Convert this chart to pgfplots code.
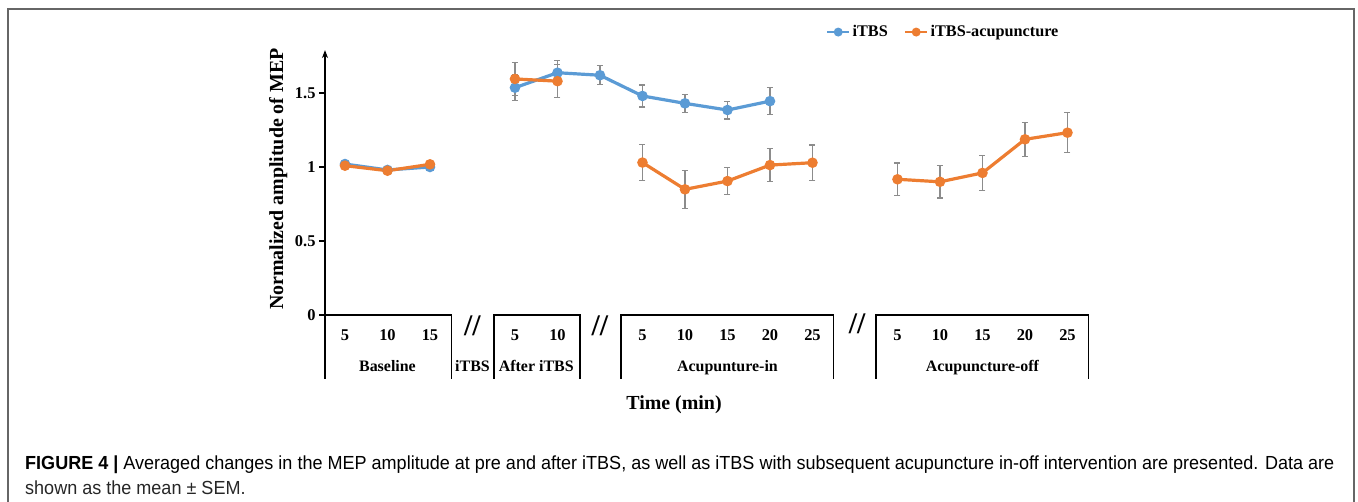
\documentclass[border=0pt]{standalone}
\usepackage{pgfplots}
\pgfplotsset{compat=1.18}
\usepackage{pgfplotstable}
\usepackage{fontspec}
\usepackage{graphicx}
\usetikzlibrary{arrows.meta}
\setmainfont{Liberation Serif}
\newfontfamily\capfont{Liberation Sans}
\definecolor{cblue}{HTML}{5B9BD5}
\definecolor{corange}{HTML}{ED7D31}
\definecolor{errgray}{HTML}{8C8C8C}
\definecolor{framegray}{HTML}{666666}
\newsavebox\capbox
\AtBeginDocument{%
\sbox\capbox{\capfont\fontsize{19}{22}\selectfont\textbf{FIGURE 4 |} Averaged changes in the MEP amplitude at pre and after iTBS, as well as iTBS with subsequent acupuncture in-off intervention are presented. Data are}%
\pgfmathsetmacro\capscale{1314.1/\the\wd\capbox}}

\pgfplotstableread{
x y e
0 1.02 0.01
1 0.98 0.01
2 1.00 0.01
3 nan 0
4 1.536 0.085
5 1.637 0.08
6 1.62 0.065
7 1.48 0.074
8 1.43 0.06
9 1.385 0.06
10 1.445 0.09
}\blueT

\pgfplotstableread{
x y e
0 1.009 0.01
1 0.975 0.01
2 1.018 0.01
3 nan 0
4 1.595 0.11
5 1.58 0.11
6 nan 0
7 1.03 0.12
8 0.849 0.13
9 0.905 0.09
10 1.013 0.11
11 1.029 0.12
12 nan 0
13 0.917 0.11
14 0.90 0.11
15 0.96 0.12
16 1.187 0.115
17 1.232 0.135
}\orangeT

\begin{document}
\begin{tikzpicture}
\useasboundingbox (0,0) rectangle (1358bp,-502bp);
\draw[framegray, line width=1.8bp] (8.2bp,-530bp) -- (8.2bp,-9bp) -- (1354bp,-9bp) -- (1354bp,-530bp);
\begin{axis}[
 at={(325bp,-315bp)}, anchor=south west,
 x=42.5bp, y=148bp,
 xmin=-0.47, xmax=17.5, ymin=0, ymax=1.79,
 axis y line=left, axis x line=bottom,
 x axis line style={draw=none},
 y axis line style={line width=1.6bp, -{Stealth[length=8bp,width=6bp]}},
 ytick={0,0.5,1,1.5},
 ytick style={line width=1.4bp, black},
 ytick align=outside,
 xtick align=inside,
 major tick length=6bp,
 xtick={0,1,2,4,5,7,8,9,10,11,13,14,15,16,17},
 xticklabels={5,10,15,5,10,5,10,15,20,25,5,10,15,20,25},
 xtick style={draw=none},
 xticklabel style={anchor=base, yshift=-25.7bp},
 tick label style={font=\bfseries\fontsize{16.5}{16.5}\selectfont},
 /pgf/number format/assume math mode=true,
 clip=false,
 unbounded coords=jump,
 ylabel={Normalized amplitude of MEP},
 ylabel style={at={(axis description cs:-0.055,0.513)}, anchor=base, font=\bfseries\fontsize{20}{20}\selectfont},
 xlabel={Time (min)},
 xlabel style={at={(axis description cs:0.457,-0.34)}, anchor=center, font=\bfseries\fontsize{20}{20}\selectfont},
 legend style={at={(axis description cs:0.6555,1.068)}, anchor=west, draw=none, fill=none,
   font=\bfseries\fontsize{16.3}{16.3}\selectfont, inner sep=0pt,
   /tikz/every even column/.append style={column sep=14bp}},
 legend columns=2,
 legend cell align=left,
 legend image code/.code={\draw[#1, line width=2.8bp, mark repeat=2, mark phase=2, mark size=3bp] plot coordinates {(0bp,0bp) (11bp,0bp) (22bp,0bp)};},
]
\addplot[cblue, line width=3.2bp, mark=*, mark size=3.6bp,
  error bars/.cd, y dir=both, y explicit,
  error bar style={errgray, line width=1.2bp},
  error mark options={rotate=90, mark size=3bp, errgray, line width=1.2bp}]
  table[x=x, y=y, y error=e] {\blueT};
\addlegendentry{iTBS}
\addplot[corange, line width=3.2bp, mark=*, mark size=3.6bp,
  error bars/.cd, y dir=both, y explicit,
  error bar style={errgray, line width=1.2bp},
  error mark options={rotate=90, mark size=3bp, errgray, line width=1.2bp}]
  table[x=x, y=y, y error=e] {\orangeT};
\addlegendentry{iTBS-acupuncture}

\draw[line width=1.6bp] (axis cs:-0.47,-0.432) -- (axis cs:-0.47,0) -- (axis cs:2.51,0) -- (axis cs:2.51,-0.432);
\draw[line width=1.6bp] (axis cs:3.5,-0.432) -- (axis cs:3.5,0) -- (axis cs:5.53,0) -- (axis cs:5.53,-0.432);
\draw[line width=1.6bp] (axis cs:6.49,-0.432) -- (axis cs:6.49,0) -- (axis cs:11.49,0) -- (axis cs:11.49,-0.432);
\draw[line width=1.6bp] (axis cs:12.49,-0.432) -- (axis cs:12.49,0) -- (axis cs:17.49,0) -- (axis cs:17.49,-0.432);

\node[anchor=base, font=\bfseries\fontsize{16}{16}\selectfont] at (axis cs:1.0,-0.383) {Baseline};
\node[anchor=base, font=\bfseries\fontsize{16}{16}\selectfont] at (axis cs:3.0,-0.383) {iTBS};
\node[anchor=base, font=\bfseries\fontsize{16}{16}\selectfont] at (axis cs:4.5,-0.383) {After iTBS};
\node[anchor=base, font=\bfseries\fontsize{16}{16}\selectfont] at (axis cs:9.0,-0.383) {Acupunture-in};
\node[anchor=base, font=\bfseries\fontsize{16}{16}\selectfont] at (axis cs:15.0,-0.383) {Acupuncture-off};

\node[font=\bfseries\fontsize{30}{30}\selectfont] at (axis cs:3.0,-0.074) {//};
\node[font=\bfseries\fontsize{30}{30}\selectfont] at (axis cs:6.0,-0.074) {//};
\node[font=\bfseries\fontsize{30}{30}\selectfont] at (axis cs:12.05,-0.06) {//};
\end{axis}

\node[anchor=base west, inner sep=0pt, text=black!85] at (25bp,-469.3bp) {\scalebox{\capscale}[1]{\usebox\capbox}};
\node[anchor=base west, inner sep=0pt, text=black!85] at (25bp,-494.3bp) {\scalebox{\capscale}[1]{\capfont\fontsize{19}{22}\selectfont shown as the mean ± SEM.}};
\end{tikzpicture}
\end{document}
